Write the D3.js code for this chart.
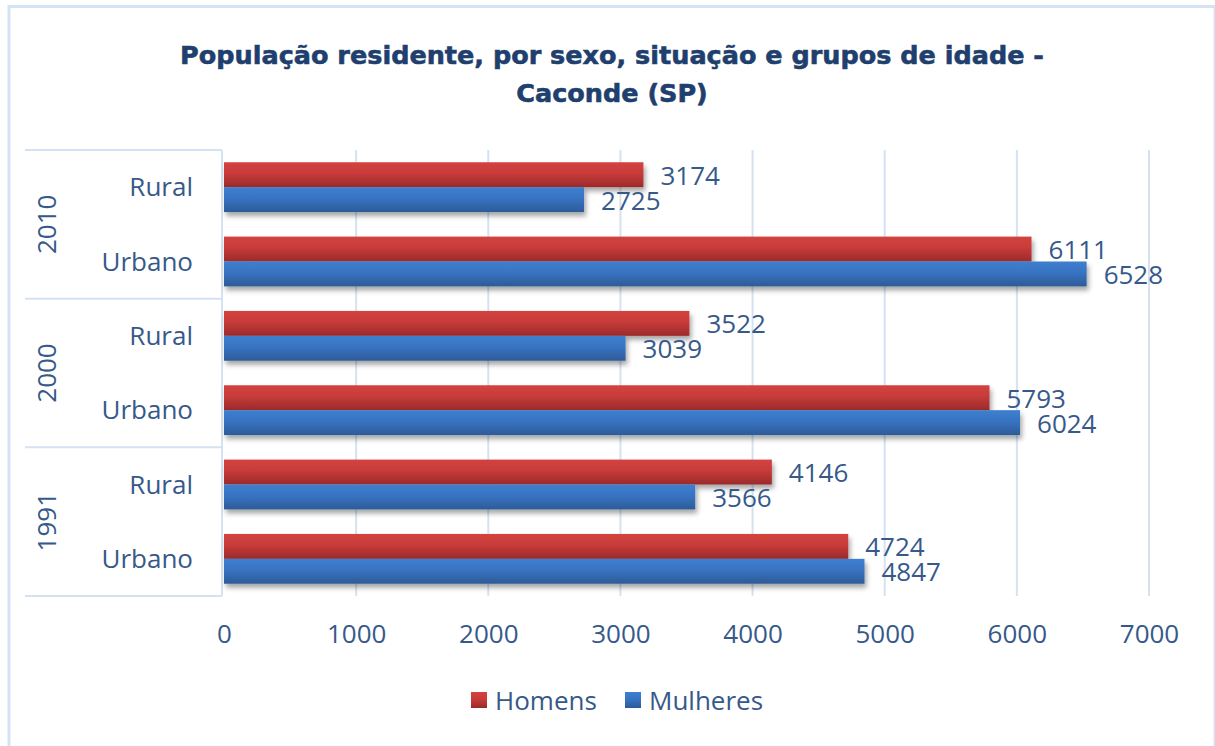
<!DOCTYPE html>
<html><head><meta charset="utf-8">
<script src="https://cdn.jsdelivr.net/npm/d3@7"></script>
<style>body{margin:0;background:#fff}svg{display:block}</style>
</head><body>
<script>
const years = ["2010","2000","1991"];
const situations = ["Rural","Urbano"];
const categories = ["2010|Rural","2010|Urbano","2000|Rural","2000|Urbano","1991|Rural","1991|Urbano"];
const homens   = [3174, 6111, 3522, 5793, 4146, 4724];
const mulheres = [2725, 6528, 3039, 6024, 3566, 4847];
const seriesNames = ["Homens","Mulheres"];
const xTicks = [0,1000,2000,3000,4000,5000,6000,7000];

const W=1215,H=746;
const txt="#36598a", grid="#d5e2f2";
const font="'Open Sans', Lato, sans-serif";
const svg=d3.select("body").append("svg").attr("width",W).attr("height",H);
const defs=svg.append("defs");
function grad(id,c1,c2,c3){
  const g=defs.append("linearGradient").attr("id",id).attr("x1",0).attr("y1",0).attr("x2",0).attr("y2",1);
  g.append("stop").attr("offset","0%").attr("stop-color",c1);
  g.append("stop").attr("offset","45%").attr("stop-color",c2);
  g.append("stop").attr("offset","100%").attr("stop-color",c3);
}
grad("gH","#d4433f","#c73b3a","#9b2a2a");
grad("gM","#3e7fcf","#3873c2","#2d5b97");
const f=defs.append("filter").attr("id","sh").attr("x","-5%").attr("y","-30%").attr("width","115%").attr("height","180%");
f.append("feDropShadow").attr("dx",2).attr("dy",4).attr("stdDeviation",2.5).attr("flood-color","#000").attr("flood-opacity",0.35);

// outer border
svg.append("rect").attr("x",9).attr("y",6.5).attr("width",1206).attr("height",745).attr("fill","none").attr("stroke","#d6e3f4").attr("stroke-width",3);

// title
const titleLines=["População residente, por sexo, situação e grupos de idade -","Caconde (SP)"];
svg.append("g").selectAll("text").data(titleLines).join("text")
  .attr("x",612).attr("y",(d,i)=>64+i*38).attr("text-anchor","middle")
  .attr("font-family","'DejaVu Sans', Arial, sans-serif").attr("font-weight","bold").attr("font-size",25.5)
  .attr("fill","#1f3f6e").attr("stroke","#1f3f6e").attr("stroke-width",0.6).text(d=>d);

const x=d3.scaleLinear().domain([0,7000]).range([224,1149]);
const y=d3.scaleBand().domain(categories).range([150,596]).paddingInner(0.33).paddingOuter(0.165);
const ys=d3.scaleBand().domain(seriesNames).range([0,y.bandwidth()]);

// gridlines
svg.append("g").selectAll("line").data(xTicks.slice(1)).join("line")
  .attr("x1",d=>x(d)).attr("x2",d=>x(d)).attr("y1",150).attr("y2",596)
  .attr("stroke",grid).attr("stroke-width",2);
// axis line
svg.append("line").attr("x1",222).attr("x2",222).attr("y1",150).attr("y2",596).attr("stroke",grid).attr("stroke-width",2);
// group separators
const groupEdges=[0,2,4,6].map(i=>150+i*(446/6));
svg.append("g").selectAll("line").data(groupEdges).join("line")
  .attr("x1",25).attr("x2",222).attr("y1",d=>d).attr("y2",d=>d).attr("stroke",grid).attr("stroke-width",2);

// x tick labels
const xa=svg.append("g").attr("transform","translate(0,634)").call(d3.axisBottom(x).tickValues(xTicks).tickSize(0).tickPadding(0).tickFormat(d3.format("d")));
xa.select(".domain").remove();
xa.selectAll("text").attr("font-family",font).attr("font-size",26).attr("fill",txt).attr("dy","0.35em").attr("y",0);

// category labels
svg.append("g").selectAll("text").data(categories).join("text")
  .attr("x",193).attr("y",d=>y(d)+y.bandwidth()/2).attr("dy","0.35em").attr("text-anchor","end")
  .attr("font-family",font).attr("font-size",26).attr("fill",txt).text(d=>d.split("|")[1]);
// year labels
svg.append("g").selectAll("text").data(years).join("text")
  .attr("transform",(d,i)=>`translate(47,${150+(i*2+1)*(446/6)}) rotate(-90)`)
  .attr("dy","0.35em").attr("text-anchor","middle")
  .attr("font-family",font).attr("font-size",26).attr("fill",txt).text(d=>d);

// bars
const data=[];
categories.forEach((c,i)=>{data.push({c,s:"Homens",v:homens[i]});data.push({c,s:"Mulheres",v:mulheres[i]});});
svg.append("g").attr("filter","url(#sh)").selectAll("rect").data(data).join("rect")
  .attr("x",x(0)).attr("y",d=>y(d.c)+ys(d.s)).attr("width",d=>x(d.v)-x(0)).attr("height",ys.bandwidth())
  .attr("fill",d=>d.s==="Homens"?"url(#gH)":"url(#gM)");
svg.append("g").selectAll("text").data(data).join("text")
  .attr("x",d=>x(d.v)+17).attr("y",d=>y(d.c)+ys(d.s)+ys.bandwidth()/2+1).attr("dy","0.35em")
  .attr("font-family",font).attr("font-size",26).attr("fill",txt).text(d=>d.v);

// legend
const leg=[{n:"Homens",x:471,f:"url(#gH)"},{n:"Mulheres",x:625,f:"url(#gM)"}];
const lg=svg.append("g").selectAll("g").data(leg).join("g").attr("transform",d=>`translate(${d.x},692)`);
lg.append("rect").attr("width",16).attr("height",16).attr("fill",d=>d.f);
lg.append("text").attr("x",24).attr("y",9).attr("dy","0.35em").attr("font-family",font).attr("font-size",26).attr("fill",txt).text(d=>d.n);
</script>
</body></html>
